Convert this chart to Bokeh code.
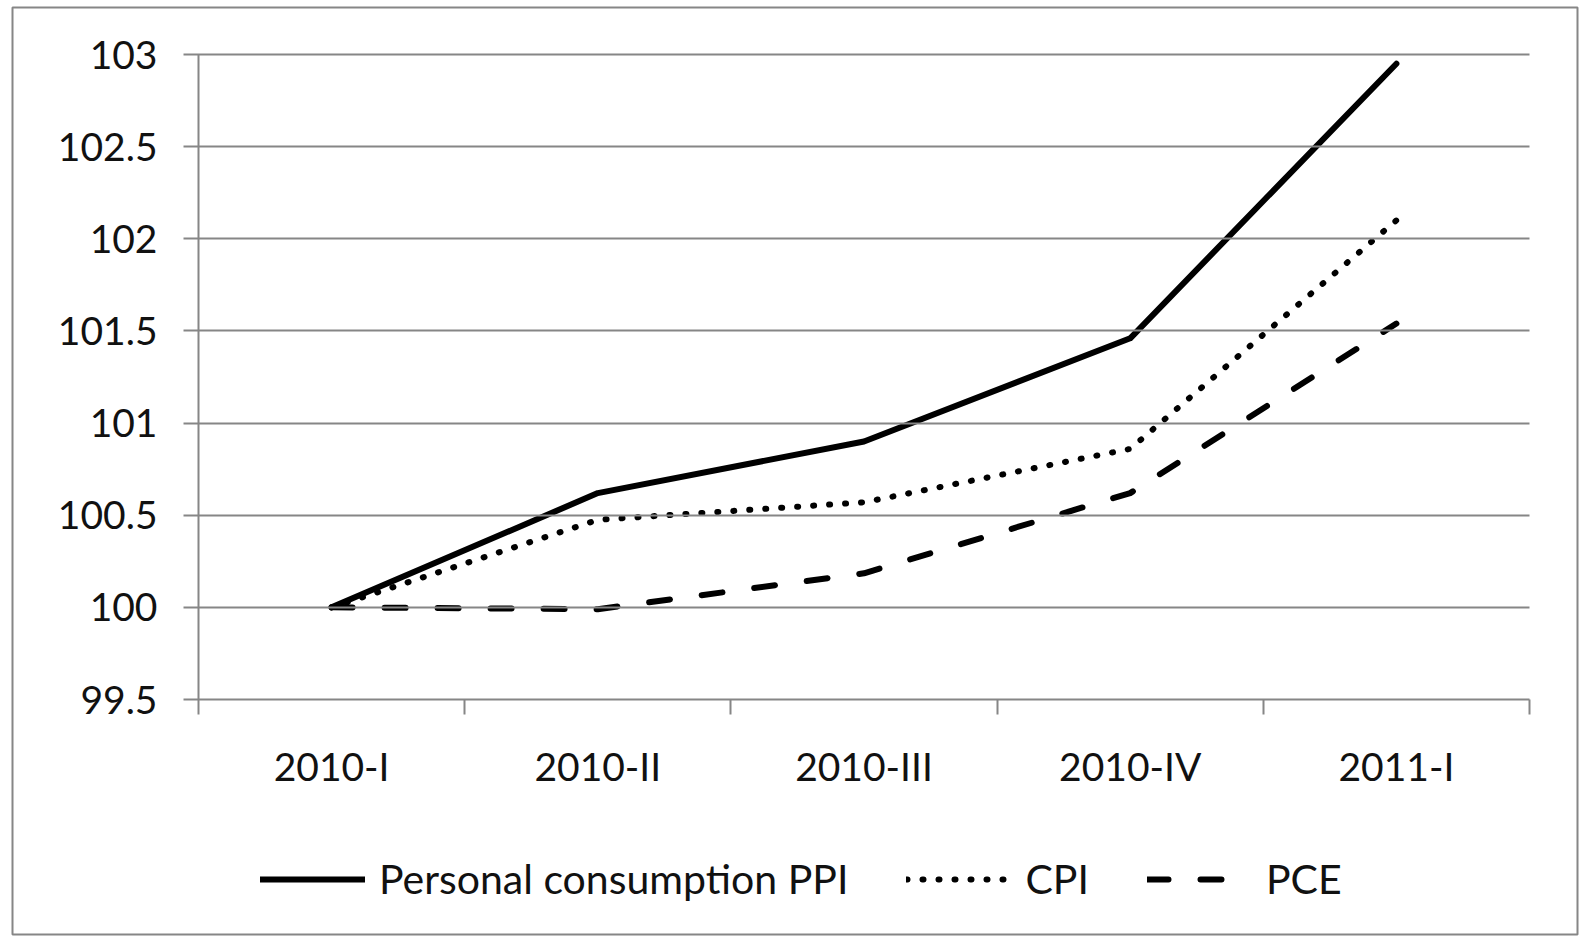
from bokeh.plotting import figure
from bokeh.models import (Range1d, FixedTicker, Legend, LegendItem, LinearAxis, BoxAnnotation)
from bokeh.embed import file_html
from bokeh.resources import INLINE

categories = ["2010-I", "2010-II", "2010-III", "2010-IV", "2011-I"]
ppi = [100.0, 100.62, 100.90, 101.46, 102.95]
cpi = [100.0, 100.475, 100.57, 100.86, 102.10]
pce = [100.0, 99.99, 100.185, 100.62, 101.54]
series_names = ["Personal consumption PPI", "CPI", "PCE"]
y_ticks = [99.5, 100.0, 100.5, 101.0, 101.5, 102.0, 102.5, 103.0]
y_tick_labels = ["99.5", "100", "100.5", "101", "101.5", "102", "102.5", "103"]

FONT = "Lato"
FS = "39px"
TXT = "#111111"
GRAY = "#868686"

n = len(categories)
x_pos = [i + 0.5 for i in range(n)]
y_lo, y_hi = y_ticks[0], y_ticks[-1]

# layout (canvas pixels): chart border box and inner plot area
W, H = 1580, 936
BOX_L, BOX_T, BOX_R, BOX_B = 12, 7, 1577, 934
PA_L, PA_T, PA_R, PA_B = 198, 54, 1529, 699
px_x = (PA_R - PA_L) / n
px_y = (PA_B - PA_T) / (y_hi - y_lo)
x_range = Range1d(-(PA_L - BOX_L) / px_x, n + (BOX_R - PA_R) / px_x)
y_range = Range1d(y_lo - (BOX_B - PA_B) / px_y, y_hi + (PA_T - BOX_T) / px_y)

p = figure(width=W, height=H, x_range=x_range, y_range=y_range,
           output_backend="svg", toolbar_location=None,
           x_axis_location=None, y_axis_location=None,
           min_border_left=BOX_L, min_border_right=W - BOX_R,
           min_border_top=BOX_T, min_border_bottom=H - BOX_B)
p.outline_line_color = GRAY
p.outline_line_width = 2
p.background_fill_color = "white"
p.border_fill_color = "white"
p.xgrid.visible = False
p.ygrid.visible = False

# x axis: labels at category centres, ticks at category boundaries
xa = LinearAxis(fixed_location=y_lo, bounds=(0, n))
xa.ticker = FixedTicker(ticks=x_pos, minor_ticks=list(range(n + 1)))
xa.major_label_overrides = {x: c for x, c in zip(x_pos, categories)}
xa.major_tick_out = 0
xa.major_tick_in = 0
xa.minor_tick_out = 15
xa.minor_tick_in = 0
xa.minor_tick_line_color = GRAY
xa.minor_tick_line_width = 2
xa.axis_line_color = None
xa.major_label_text_font = FONT
xa.major_label_text_font_size = FS
xa.major_label_text_color = TXT
xa.major_label_standoff = 28
p.add_layout(xa, "below")

# y axis: ticks extend across the plot area to act as the horizontal gridlines
ya = LinearAxis(fixed_location=0, bounds=(y_lo, y_hi))
ya.ticker = FixedTicker(ticks=y_ticks, minor_ticks=[])
ya.major_label_overrides = {t: l for t, l in zip(y_ticks, y_tick_labels)}
ya.major_tick_out = 15
ya.major_tick_in = PA_R - PA_L
ya.major_tick_line_color = GRAY
ya.major_tick_line_width = 2
ya.minor_tick_out = 0
ya.minor_tick_in = 0
ya.axis_line_color = None
ya.major_label_text_font = FONT
ya.major_label_text_font_size = FS
ya.major_label_text_color = TXT
ya.major_label_standoff = 26
p.add_layout(ya, "left")

# vertical axis rule (2px wide), limited to the value range
rule = BoxAnnotation(left=-1 / px_x, right=1 / px_x, bottom=y_lo, top=y_hi,
                     fill_color=GRAY, fill_alpha=1, line_color=None, level="underlay")
p.add_layout(rule)

r1 = p.line(x_pos, ppi, line_color="black", line_width=6, line_join="round", line_cap="round")
r2 = p.line(x_pos, cpi, line_color="black", line_width=6, line_join="round",
            line_cap="round", line_dash="1 15")
r3 = p.line(x_pos, pce, line_color="black", line_width=6, line_join="round",
            line_cap="round", line_dash="21 32")

legend = Legend(items=[LegendItem(label=s, renderers=[r]) for s, r in zip(series_names, [r1, r2, r3])],
                orientation="horizontal", location=(260 - BOX_L, 31),
                label_text_font=FONT, label_text_font_size="41px", label_text_color=TXT,
                glyph_width=105, glyph_height=40, spacing=58, label_standoff=14,
                padding=0, margin=0, border_line_alpha=0, background_fill_alpha=0)
p.add_layout(legend)

open("out.html", "w").write(file_html(p, INLINE))
